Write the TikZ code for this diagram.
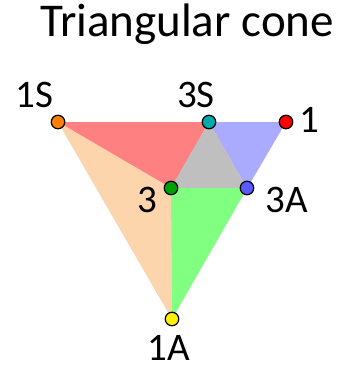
\documentclass[tikz,border=0pt]{standalone}
\usepackage{fontspec}
\setmainfont{Carlito}
\definecolor{conered}{RGB}{255,128,128}
\definecolor{coneblue}{RGB}{170,170,255}
\definecolor{conegray}{RGB}{191,191,191}
\definecolor{conegreen}{RGB}{128,255,128}
\definecolor{conepeach}{RGB}{252,213,172}
\definecolor{dotteal}{RGB}{0,170,170}
\definecolor{dotblue}{RGB}{90,90,255}
\definecolor{dotgreen}{RGB}{0,160,0}
\definecolor{dotorange}{RGB}{255,128,0}
\begin{document}
\begin{tikzpicture}[x=1pt,y=-1pt,
  dot/.style={circle,draw=black,line width=1.2pt,minimum size=13.5pt,inner sep=0pt},
  lbl/.style={font=\fontsize{39}{42}\selectfont,inner sep=0pt,text depth=0pt,anchor=base}]
\useasboundingbox (0,0) rectangle (352,369);
\node[font=\fontsize{47}{52}\selectfont,inner sep=0pt,anchor=base] (title) at (187,37) {Triangular cone};
% corners of the cone
\coordinate (c1S) at (58,122);
\coordinate (c3S) at (209,122);
\coordinate (c1) at (286,122);
\coordinate (c3) at (171,188);
\coordinate (c3A) at (247,188);
\coordinate (c1A) at (172,319);
% shadow
\fill[black!12,shift={(2,3)}] (c1S) -- (c1) -- (c1A) -- cycle;
% faces
\fill[conered] (c1S) -- (c3S) -- (c3) -- cycle;
\fill[coneblue] (c3S) -- (c1) -- (c3A) -- cycle;
\fill[conegray] (c3S) -- (c3A) -- (c3) -- cycle;
\fill[conegreen] (c3) -- (c3A) -- (c1A) -- cycle;
\fill[conepeach] (c1S) -- (c3) -- (c1A) -- cycle;
% points
\node[dot,fill=dotorange] (p1S) at (c1S) {};
\node[dot,fill=dotteal] (p3S) at (c3S) {};
\node[dot,fill=red] (p1) at (c1) {};
\node[dot,fill=dotgreen] (p3) at (c3) {};
\node[dot,fill=dotblue] (p3A) at (c3A) {};
\node[dot,fill=yellow] (p1A) at (c1A) {};
% labels
\node[lbl] (l1S) at (34.5,107) {1S};
\node[lbl] (l3S) at (196,107) {3S};
\node[lbl] (l1) at (309,132) {1};
\node[lbl] (l3) at (147,212) {3};
\node[lbl] (l3A) at (287,212) {3A};
\node[lbl] (l1A) at (169,360) {1A};
\end{tikzpicture}
\end{document}
